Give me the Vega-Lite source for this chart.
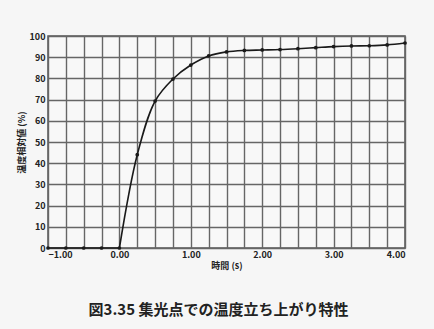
{
  "$schema": "https://vega.github.io/schema/vega-lite/v6.json",
  "width": 357,
  "height": 212,
  "autosize": {"type": "none"},
  "padding": {"left": 48, "top": 36, "right": 29, "bottom": 81},
  "background": "#f6f6f6",
  "config": {
    "font": "Noto Sans CJK JP",
    "view": {"stroke": "#555", "strokeWidth": 1.5, "fill": "#f8f8f8"}
  },
  "title": {
    "text": "図3.35 集光点での温度立ち上がり特性",
    "orient": "bottom",
    "anchor": "middle",
    "font": "Noto Sans CJK JP",
    "fontSize": 15,
    "fontWeight": "bold",
    "color": "#222",
    "offset": 33,
    "dx": -8
  },
  "data": {
    "values": [
      {"t": -1.0, "v": 0}, {"t": -0.75, "v": 0}, {"t": -0.5, "v": 0}, {"t": -0.25, "v": 0},
      {"t": 0.0, "v": 0}, {"t": 0.25, "v": 44}, {"t": 0.5, "v": 69.3}, {"t": 0.75, "v": 79.7},
      {"t": 1.0, "v": 86.3}, {"t": 1.25, "v": 90.6}, {"t": 1.5, "v": 92.5}, {"t": 1.75, "v": 93.2},
      {"t": 2.0, "v": 93.4}, {"t": 2.25, "v": 93.6}, {"t": 2.5, "v": 94}, {"t": 2.75, "v": 94.5},
      {"t": 3.0, "v": 95}, {"t": 3.25, "v": 95.3}, {"t": 3.5, "v": 95.4}, {"t": 3.75, "v": 95.8},
      {"t": 4.0, "v": 96.7}
    ]
  },
  "encoding": {
    "x": {
      "field": "t", "type": "quantitative",
      "scale": {"domain": [-1, 4], "nice": false, "zero": false},
      "axis": {
        "values": [-1, -0.75, -0.5, -0.25, 0, 0.25, 0.5, 0.75, 1, 1.25, 1.5, 1.75, 2, 2.25, 2.5, 2.75, 3, 3.25, 3.5, 3.75, 4],
        "labelExpr": "datum.value % 0.5 == 0 ? format(datum.value, '.2f') : ''",
        "title": "時間 (s)",
        "titleFontSize": 9, "titleFontWeight": "bold", "titleColor": "#222", "titlePadding": 2,
        "labelFontSize": 9, "labelFontWeight": "bold", "labelColor": "#222", "labelPadding": 2,
        "ticks": false, "domain": false,
        "gridColor": "#666", "gridWidth": 1.4, "gridOpacity": 1
      }
    },
    "y": {
      "field": "v", "type": "quantitative",
      "scale": {"domain": [0, 100], "nice": false},
      "axis": {
        "values": [0, 10, 20, 30, 40, 50, 60, 70, 80, 90, 100],
        "title": "温度相対値 (%)",
        "titleFontSize": 9, "titleFontWeight": "bold", "titleColor": "#222", "titlePadding": 3,
        "labelFontSize": 9, "labelFontWeight": "bold", "labelColor": "#222", "labelPadding": 3,
        "ticks": false, "domain": false,
        "gridColor": "#666", "gridWidth": 1.4, "gridOpacity": 1
      }
    }
  },
  "layer": [
    {"transform": [{"filter": "datum.t <= 0"}], "mark": {"type": "line", "interpolate": "linear", "color": "#1a1a1a", "strokeWidth": 1.6}},
    {"transform": [{"filter": "datum.t >= 0"}], "mark": {"type": "line", "interpolate": "catmull-rom", "color": "#1a1a1a", "strokeWidth": 1.6}},
    {"mark": {"type": "point", "filled": true, "color": "#1a1a1a", "size": 14, "opacity": 1}}
  ]
}
